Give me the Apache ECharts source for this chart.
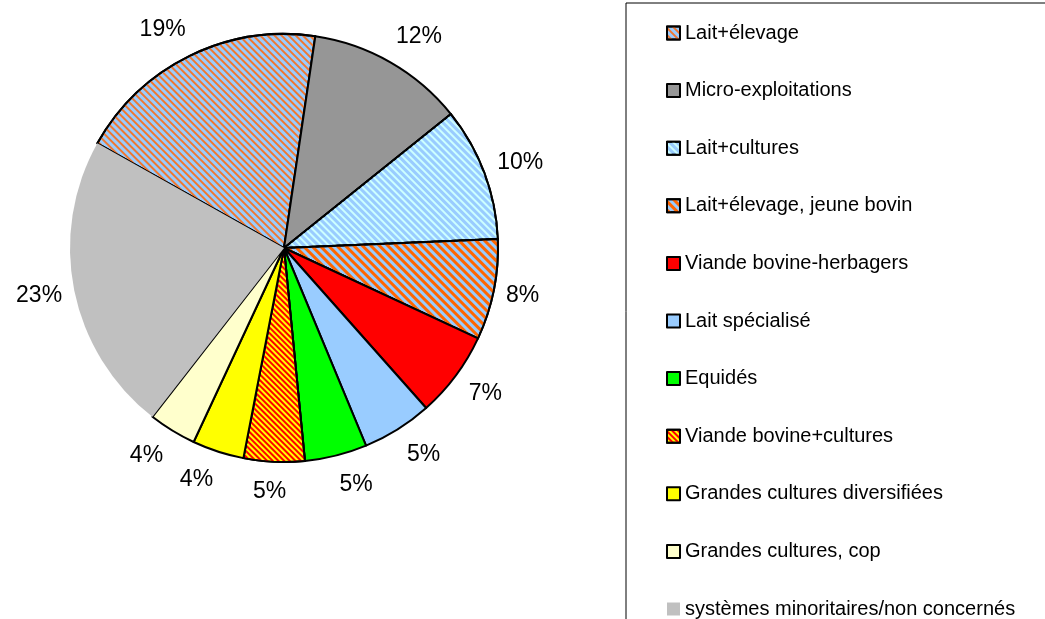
<!DOCTYPE html>
<html>
<head>
<meta charset="utf-8">
<script src="https://cdn.jsdelivr.net/npm/echarts@6/dist/echarts.min.js"></script>
<style>
  html, body { margin: 0; padding: 0; background: #fff; }
  #chart { width: 1045px; height: 619px; }
</style>
</head>
<body>
<div id="chart"></div>
<script>
// categories in the order of the legend (and of the slices, clockwise)
const categories = [
    'Lait+élevage',
    'Micro-exploitations',
    'Lait+cultures',
    'Lait+élevage, jeune bovin',
    'Viande bovine-herbagers',
    'Lait spécialisé',
    'Equidés',
    'Viande bovine+cultures',
    'Grandes cultures diversifiées',
    'Grandes cultures, cop',
    'systèmes minoritaires/non concernés'
];
// share of each group, in %
const shares = [19.2, 11.9, 10.1, 7.6, 6.5, 5.3, 4.7, 4.6, 3.9, 3.6, 22.6];

const baseColors = ['#99ccff', '#969696', '#99ccff', '#99ccff', '#ff0000', '#99ccff',
    '#00ff00', '#ffff00', '#ffff00', '#ffffcc', '#c0c0c0'];

// hatch patterns (null = plain fill)
const stripe = (color, dash) => ({
    symbol: 'rect',
    symbolSize: 1,
    color: color,
    dashArrayX: [1, 0],
    dashArrayY: dash,
    rotation: Math.PI / 4
});
const hatches = [
    stripe('#f07830', [1.5, 2.5]),
    null,
    stripe('#ccffff', [2, 2.5]),
    stripe('#ff6600', [3, 3]),
    null,
    null,
    null,
    stripe('#ff0000', [2, 2]),
    null,
    null,
    null
];

const CENTER = [284, 248];
const RADIUS = 214;
const START = 150.7; // echarts startAngle (deg, ccw from 3 o'clock)

// mid angle of each slice, clockwise from 12 o'clock, in radians
const total = shares.reduce((a, b) => a + b, 0);
let acc = 90 - START;
const midAngles = shares.map(v => {
    const span = v / total * 360;
    const mid = acc + span / 2;
    acc += span;
    return mid * Math.PI / 180;
});

const chart = echarts.init(document.getElementById('chart'));

const pieData = categories.map((name, i) => {
    const item = {
        name: name,
        value: shares[i],
        itemStyle: {
            color: baseColors[i],
            borderColor: '#000',
            borderWidth: i === categories.length - 1 ? 0 : 2
        }
    };
    if (hatches[i]) item.itemStyle.decal = hatches[i];
    return item;
});

chart.setOption({
    animation: false,
    backgroundColor: '#fff',
    textStyle: { fontFamily: 'Arial, "Liberation Sans", sans-serif' },
    legend: {
        orient: 'vertical',
        left: 626,
        top: 3,
        height: 700,
        padding: [20, 120, 20, 40],
        borderColor: '#000',
        borderWidth: 1,
        icon: 'rect',
        itemWidth: 13,
        itemHeight: 13,
        itemGap: 37.6,
        selectedMode: false,
        textStyle: {
            fontSize: 20,
            lineHeight: 20,
            color: '#000',
            fontFamily: 'Arial, "Liberation Sans", sans-serif'
        },
        data: categories
    },
    series: [
        {
            type: 'pie',
            center: CENTER,
            radius: RADIUS,
            startAngle: START,
            clockwise: true,
            avoidLabelOverlap: false,
            label: {
                show: true,
                position: 'outside',
                fontSize: 23,
                color: '#000',
                fontFamily: 'Arial, "Liberation Sans", sans-serif',
                formatter: (p) => Math.round(p.value) + '%'
            },
            labelLine: {
                show: false,
                length: 10,
                length2: 0
            },
            // put each label box just outside the rim, like the spreadsheet does
            labelLayout: (p) => {
                const a = midAngles[p.dataIndex];
                const ux = Math.sin(a), uy = -Math.cos(a);
                const w = p.labelRect.width, h = p.labelRect.height;
                const side = Math.max(-1, Math.min(1, ux * 5));
                return {
                    x: CENTER[0] + (RADIUS + 10) * ux + (w / 2) * ux + 14 * side * Math.abs(uy),
                    y: CENTER[1] + (RADIUS + 10) * uy + (h / 2 + 8) * uy,
                    align: 'center',
                    verticalAlign: 'middle'
                };
            },
            emphasis: { disabled: true },
            data: pieData
        }
    ]
});
</script>
</body>
</html>
